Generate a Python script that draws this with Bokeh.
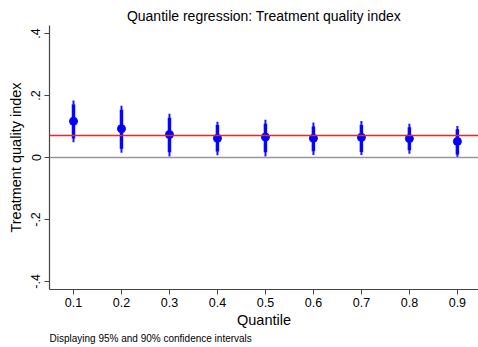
from bokeh.plotting import figure
from bokeh.models import Span, Range1d, FixedTicker, Title
from bokeh.embed import file_html
from bokeh.resources import INLINE

# Quantile regression coefficients on the treatment quality index
quantiles = [0.1, 0.2, 0.3, 0.4, 0.5, 0.6, 0.7, 0.8, 0.9]
coef = [0.117, 0.093, 0.074, 0.062, 0.066, 0.062, 0.065, 0.061, 0.052]
ci95_low = [0.049, 0.015, 0.003, 0.007, 0.003, 0.008, 0.008, 0.012, -0.001]
ci95_high = [0.184, 0.167, 0.141, 0.115, 0.122, 0.113, 0.118, 0.109, 0.102]
ci90_low = [0.061, 0.028, 0.017, 0.019, 0.017, 0.020, 0.018, 0.023, 0.010]
ci90_high = [0.171, 0.154, 0.128, 0.105, 0.109, 0.100, 0.105, 0.098, 0.091]
ols_coef = 0.071

y_ticks = [-0.4, -0.2, 0.0, 0.2, 0.4]
y_tick_labels = ["-.4", "-.2", "0", ".2", ".4"]
x_ticks = quantiles
x_tick_labels = ["0.1", "0.2", "0.3", "0.4", "0.5", "0.6", "0.7", "0.8", "0.9"]

FONT = "Liberation Sans"
BLUE = "#0000ff"
AXIS = "#444444"

p = figure(width=478, height=347, output_backend="svg", toolbar_location=None,
           x_range=Range1d(0.05, 0.944), y_range=Range1d(-0.426, 0.426),
           min_border_left=49, min_border_right=0, min_border_top=25,
           min_border_bottom=58)
p.outline_line_color = None
p.xgrid.visible = False
p.ygrid.visible = False
p.background_fill_color = "white"
p.border_fill_color = "white"

p.title.text = "Quantile regression: Treatment quality index"
p.title.align = "center"
p.title.text_font = FONT
p.title.text_font_style = "normal"
p.title.text_font_size = "14px"
p.title.text_color = "black"
p.title.offset = 0
p.title.standoff = 4

# reference lines: zero and the OLS estimate
p.add_layout(Span(location=0, dimension="width", line_color="#999999", line_width=1.5))
p.add_layout(Span(location=ols_coef, dimension="width", line_color="#e8282b", line_width=1.3))

# 95% (thin) and 90% (thick) confidence intervals
p.segment(x0=quantiles, y0=ci95_low, x1=quantiles, y1=ci95_high,
          line_color=BLUE, line_width=2, line_alpha=0.9)
p.segment(x0=quantiles, y0=ci90_low, x1=quantiles, y1=ci90_high,
          line_color=BLUE, line_width=3.5, line_alpha=0.95)
p.scatter(quantiles, coef, size=8, color=BLUE, line_color=BLUE)

# axes
for ax in (p.xaxis[0], p.yaxis[0]):
    ax.axis_line_color = AXIS
    ax.axis_line_width = 1.2
    ax.major_tick_line_color = AXIS
    ax.major_tick_out = 5
    ax.major_tick_in = 0
    ax.minor_tick_line_color = None
    ax.major_label_text_font = FONT
    ax.major_label_text_font_size = "12.5px"
    ax.major_label_text_color = "black"
    ax.axis_label_text_font = FONT
    ax.axis_label_text_font_size = "14.5px"
    ax.axis_label_text_font_style = "normal"
    ax.axis_label_text_color = "black"

p.xaxis.ticker = FixedTicker(ticks=x_ticks)
p.xaxis.major_label_overrides = dict(zip(x_ticks, x_tick_labels))
p.xaxis.axis_label = "Quantile"
p.xaxis.major_label_standoff = 3
p.xaxis.axis_label_standoff = 2

p.yaxis.ticker = FixedTicker(ticks=y_ticks)
p.yaxis.major_label_overrides = dict(zip(y_ticks, y_tick_labels))
p.yaxis.major_label_orientation = "vertical"
p.yaxis.axis_label = "Treatment quality index"
p.yaxis.major_label_standoff = 4
p.yaxis.axis_label_standoff = 5

note = Title(text="Displaying 95% and 90% confidence intervals", align="left",
             text_font=FONT, text_font_size="10px", text_font_style="normal",
             text_color="black", offset=0, standoff=0)
p.add_layout(note, "below")

open("out.html", "w").write(file_html(p, INLINE))
